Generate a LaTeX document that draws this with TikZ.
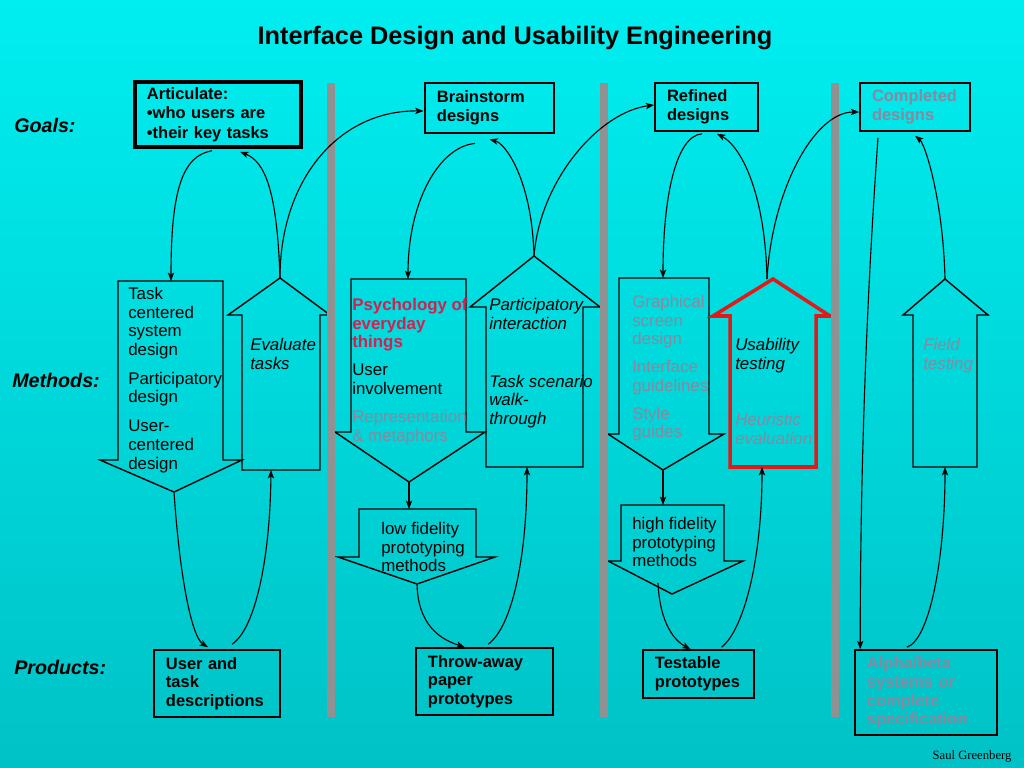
\documentclass[tikz,border=0pt]{standalone}
\usepackage{fontspec}
\setmainfont{Liberation Sans}
\newfontfamily\creditfont{Liberation Serif}
\usetikzlibrary{arrows.meta, positioning}
\definecolor{bgtop}{RGB}{0,238,240}
\definecolor{bgbottom}{RGB}{0,194,198}
\definecolor{bar}{RGB}{145,145,145}
\definecolor{faded}{RGB}{138,136,158}
\definecolor{crimson}{RGB}{212,32,80}
\definecolor{redline}{RGB}{225,25,25}

\begin{document}
\begin{tikzpicture}[x=0.025cm, y=-0.025cm,
  box/.style={rectangle, draw=black, line width=1.1pt, inner xsep=0.3cm, inner ysep=0pt,
    align=left, font=\fontsize{11.7}{13.2}\selectfont\bfseries},
  txt/.style={inner sep=0pt, anchor=north west, align=left, font=\fontsize{12}{13.2}\selectfont},
  blk/.style={draw=black, line width=1pt, line join=miter},
  link/.style={-{Stealth[length=6pt, width=4.5pt, inset=1.5pt]}, line width=0.8pt},
  lbl/.style={anchor=west, inner sep=0pt, font=\fontsize{14}{16}\selectfont\bfseries\itshape}
]
\shade[top color=bgtop, bottom color=bgbottom] (0,0) rectangle (1024,768);

\node[font=\fontsize{18}{20}\selectfont\bfseries] (title) at (515,38) {Interface Design and Usability Engineering};

\node[lbl] (goals) at (14,125) {Goals:};
\node[lbl] (methods) at (12,380) {Methods:};
\node[lbl] (products) at (14,667) {Products:};

% Block arrows for methods
\draw[blk] (118,281) -- (223,281) -- (223,460) -- (242,460) -- (174,492) coordinate (tcdtip) -- (100,460) -- (118,460) -- cycle;
\draw[blk] (242,470) -- (320,470) -- (320,315) -- (330,315) -- (280,278) coordinate (evttip) -- (228,315) -- (242,315) -- cycle;
\draw[blk] (351,279) -- (466,279) -- (466,432) -- (485,432) -- (409,482) coordinate (psytip) -- (335,432) -- (351,432) -- cycle;
\draw[blk] (486,467) -- (583,467) -- (583,307) -- (600,307) -- (534,256) coordinate (pintip) -- (470,307) -- (486,307) -- cycle;
\draw[blk] (619,278) -- (709,278) -- (709,434) -- (724,434) -- (663,470) coordinate (gsdtip) -- (608,434) -- (619,434) -- cycle;
\draw[blk, draw=redline, line width=2.5pt] (730,467) -- (816,467) -- (816,316) -- (830,316) -- (773,279) -- (713,316) -- (730,316) -- cycle;
\draw[blk] (913,467) -- (977,467) -- (977,315) -- (988,315) -- (945,279) coordinate (fldtip) -- (903,315) -- (913,315) -- cycle;

% Prototyping arrows
\draw[blk] (359,509) -- (476,509) -- (476,557) -- (495,557) -- (417,584) coordinate (lofitip) -- (338,557) -- (359,557) -- cycle;
\draw[blk] (621,505) -- (724,505) -- (724,561) -- (743,561) -- (672,594) -- (608,561) -- (621,561) -- cycle;

\coordinate (tcdin) at (171,281);
\coordinate (evtin) at (271,470);
\coordinate (psyin) at (408,279);
\coordinate (pinin) at (527,467);
\coordinate (gsdin) at (663,278);
\coordinate (ustin) at (762,467);
\coordinate (ustout) at (767,279);
\coordinate (fldin) at (945,467);
\coordinate (lofiin) at (409,509);
\coordinate (hifiin) at (663,505);
\coordinate (hifiout) at (658,583);

% Phase separators
\fill[bar] (327,83) rectangle (335,717);
\fill[bar] (600,83) rectangle (608,717);
\fill[bar] (831,83) rectangle (839,717);

% Goals
\node[box, line width=2.5pt, font=\fontsize{11.7}{14}\selectfont\bfseries, text width=3.55cm, minimum width=4.15cm, minimum height=1.625cm] (art) at (218,114.5) {Articulate:\\•who users are\\•their key tasks\\[-0.2cm]};
\node[box, line width=2pt, text width=2.625cm, minimum width=3.225cm, minimum height=1.25cm] (brain) at (489.5,108) {Brainstorm\\designs};
\node[box, text width=1.975cm, minimum width=2.575cm, minimum height=1.2cm] (ref) at (706.5,107) {Refined\\designs};
\node[box, text=faded, text width=2.15cm, minimum width=2.75cm, minimum height=1.2cm] (comp) at (915,107) {Completed\\designs};

% Products
\node[box, text width=2.55cm, minimum width=3.15cm, minimum height=1.675cm] (utd) at (217,683.5) {User and\\task\\descriptions};
\node[box, text width=2.825cm, minimum width=3.425cm, minimum height=1.675cm] (paper) at (484.5,681.5) {Throw-away\\paper\\prototypes};
\node[box, text width=2.175cm, minimum width=2.775cm, minimum height=1.2cm] (test) at (698.5,674) {Testable\\prototypes};
\node[box, text=faded, text width=2.95cm, minimum width=3.55cm, minimum height=2.125cm] (alpha) at (926,692.5) {Alpha/beta\\systems \textit{or}\\complete\\specification};

% Method texts
\node[txt] (tcdtxt) at (128,287) {Task\\centered\\system\\design\\[7.5pt]Participatory\\design\\[7.5pt]User-\\centered\\design};
\node[txt, font=\fontsize{12}{13.2}\selectfont\itshape] (evttxt) at (250,338) {Evaluate\\tasks};
\node[txt, text=crimson, font=\fontsize{12}{13.2}\selectfont\bfseries] (psytxt) at (352,298) {Psychology of\\everyday\\things};
\node[txt] (invtxt) at (352,364) {User\\involvement};
\node[txt, text=faded] (reptxt) at (352,410) {Representation\\\& metaphors};
\node[txt, font=\fontsize{12}{13.2}\selectfont\itshape] (pintxt) at (489,298) {Participatory\\interaction\\[28pt]Task scenario\\walk-\\through};
\node[txt, text=faded] (gsdtxt) at (632,295) {Graphical\\screen\\design\\[6.7pt]Interface\\guidelines\\[6.7pt]Style\\guides};
\node[txt, font=\fontsize{12}{13.2}\selectfont\itshape] (usttxt) at (735,338) {Usability\\testing};
\node[txt, text=faded, font=\fontsize{12}{13.2}\selectfont\itshape] (heutxt) at (735,413) {Heuristic\\evaluation};
\node[txt, text=faded, font=\fontsize{12}{13.2}\selectfont\itshape] (fldtxt) at (923,338) {Field\\testing};
\node[txt] (lofitxt) at (381,522) {low fidelity\\prototyping\\methods};
\node[txt] (hifitxt) at (632,517) {high fidelity\\prototyping\\methods};

% Goals <-> methods
\draw[link] ([xshift=-0.15cm, yshift=-0.05cm]art.south) .. controls +(-30,5) and +(0,-90) .. (tcdin);
\draw[link] (evttip) .. controls +(-3,-88) and +(25,10) .. ([xshift=0.55cm, yshift=-0.075cm]art.south);
\draw[link] (evttip) .. controls +(0,-98) and +(-85,-1) .. ([yshift=-0.075cm]brain.west);
\draw[link] ([xshift=-0.36cm, yshift=-0.225cm]brain.south) .. controls +(-35,3) and +(0,-79) .. (psyin);
\draw[link] (pintip) .. controls +(-2,-76) and +(16,4) .. ([yshift=-0.125cm]brain.south);
\draw[link] (pintip) .. controls +(6,-76) and +(-55,7) .. ([yshift=0.05cm]ref.west);
\draw[link] ([xshift=-0.11cm, yshift=-0.05cm]ref.south) .. controls +(-27,2) and +(0,-78) .. (gsdin);
\draw[link] (ustout) .. controls +(-2,-89) and +(23,12) .. ([xshift=0.26cm, yshift=-0.05cm]ref.south);
\draw[link] (ustout) .. controls +(5,-89) and +(-45,0) .. ([yshift=-0.125cm]comp.west);
\draw[link] ([xshift=-0.925cm, yshift=-0.15cm]comp.south) .. controls +(-10,140) and +(0,-200) .. ([xshift=0.15cm]alpha.north west);
\draw[link] (fldtip) .. controls +(-2,-80) and +(10,8) .. ([yshift=-0.1cm]comp.south);

% Methods <-> products
\draw[link] (tcdtip) .. controls +(6,88) and +(-16,-10) .. ([xshift=-0.225cm, yshift=0.05cm]utd.north);
\draw[link] ([xshift=0.375cm, yshift=0.125cm]utd.north) .. controls +(23,-15) and +(-1,90) .. (evtin);
\draw[link] (psytip) -- (lofiin);
\draw[link] (lofitip) .. controls +(1,41) and +(-25,-8) .. ([xshift=-0.49cm]paper.north);
\draw[link] ([xshift=0.09cm, yshift=0.075cm]paper.north) .. controls +(24,-17) and +(0,90) .. (pinin);
\draw[link] (gsdtip) -- (hifiin);
\draw[link] (hifiout) .. controls +(2,42) and +(-15,-8) .. ([xshift=-0.2cm]test.north);
\draw[link] ([xshift=0.575cm, yshift=0.05cm]test.north) .. controls +(23,-18) and +(0,90) .. (ustin);
\draw[link] ([xshift=-0.475cm, yshift=0.05cm]alpha.north) .. controls +(23,-8) and +(0,90) .. (fldin);

\node[font=\creditfont\fontsize{9}{10}\selectfont] (credit) at (972,756) {Saul Greenberg};
\end{tikzpicture}
\end{document}
